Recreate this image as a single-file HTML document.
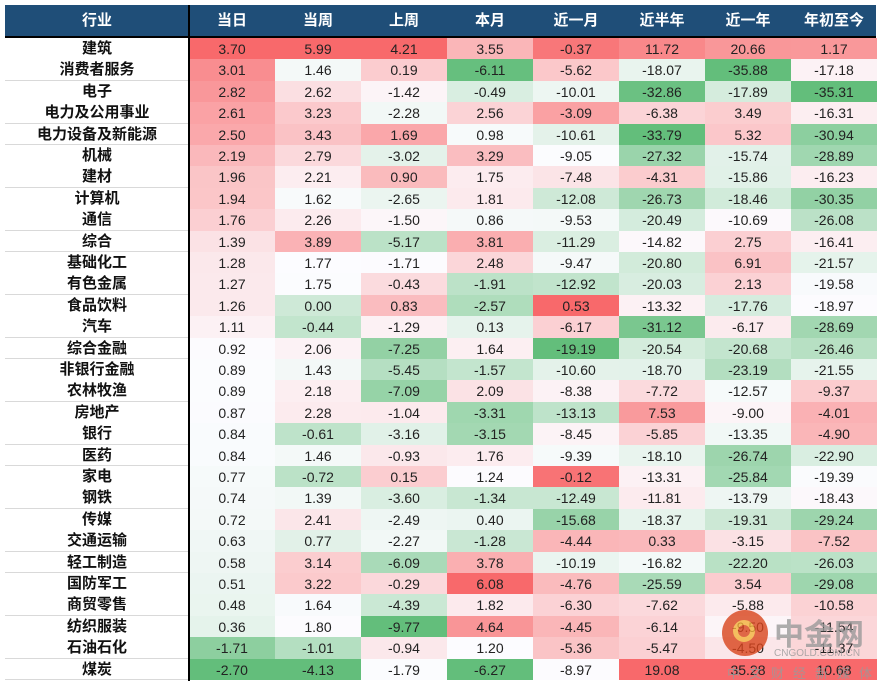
<!DOCTYPE html>
<html><head><meta charset="utf-8">
<style>
body{margin:0;background:#fff;width:881px;height:685px;overflow:hidden;position:relative;font-family:"Liberation Sans","Noto Sans CJK SC",sans-serif;}
#hdr{position:absolute;left:5px;top:5px;width:871px;height:32px;background:#1f4e78;}
.h{position:absolute;top:5px;height:32px;line-height:32px;color:#fff;font-weight:bold;font-size:15px;text-align:center;font-family:"Liberation Sans","Noto Sans CJK SC",sans-serif;}
.c{position:absolute;text-align:center;font-size:14px;color:#222;}
.n{position:absolute;text-align:center;font-size:15px;font-weight:bold;color:#111;background:#fff;border-bottom:1px solid #d9d9d9;box-sizing:border-box;}
</style></head><body>
<div id="hdr"></div>
<div id="tbl"></div>
<div style="position:absolute;left:5px;top:36px;width:871px;height:2px;background:#000;z-index:5"></div>
<div style="position:absolute;left:188px;top:5px;width:2px;height:676px;background:#000;z-index:5"></div>
<div style="position:absolute;left:722px;top:608px;width:160px;height:77px;opacity:0.8;z-index:10">
 <div style="position:absolute;left:0;top:2px;width:46px;height:46px;border-radius:50%;background:#d9441c"></div>
 <div style="position:absolute;left:11px;top:12px;width:22px;height:22px;border-radius:50%;border:5px solid #f3b13a;box-sizing:border-box"></div>
 <div style="position:absolute;left:52px;top:2px;font-size:30px;font-weight:bold;color:#9a9a9a;font-family:'Liberation Sans','Noto Sans CJK SC',sans-serif">中金网</div>
 <div style="position:absolute;left:52px;top:40px;font-size:10px;color:#9a9a9a">CNGOLD.COM.CN</div>
 <div style="position:absolute;left:5px;top:55px;font-size:13px;color:#9a9a9a;letter-spacing:9px;font-family:'Noto Sans CJK SC',sans-serif">中文财经新媒体</div>
</div>
<script>
const headers=["行业","当日","当周","上周","本月","近一月","近半年","近一年","年初至今"];
const industries=["建筑","消费者服务","电子","电力及公用事业","电力设备及新能源","机械","建材","计算机","通信","综合","基础化工","有色金属","食品饮料","汽车","综合金融","非银行金融","农林牧渔","房地产","银行","医药","家电","钢铁","传媒","交通运输","轻工制造","国防军工","商贸零售","纺织服装","石油石化","煤炭"];
const dayV=[3.70,3.01,2.82,2.61,2.50,2.19,1.96,1.94,1.76,1.39,1.28,1.27,1.26,1.11,0.92,0.89,0.89,0.87,0.84,0.84,0.77,0.74,0.72,0.63,0.58,0.51,0.48,0.36,-1.71,-2.70];
const weekV=[5.99,1.46,2.62,3.23,3.43,2.79,2.21,1.62,2.26,3.89,1.77,1.75,0.00,-0.44,2.06,1.43,2.18,2.28,-0.61,1.46,-0.72,1.39,2.41,0.77,3.14,3.22,1.64,1.80,-1.01,-4.13];
const lastWeekV=[4.21,0.19,-1.42,-2.28,1.69,-3.02,0.90,-2.65,-1.50,-5.17,-1.71,-0.43,0.83,-1.29,-7.25,-5.45,-7.09,-1.04,-3.16,-0.93,0.15,-3.60,-2.49,-2.27,-6.09,-0.29,-4.39,-9.77,-0.94,-1.79];
const monthV=[3.55,-6.11,-0.49,2.56,0.98,3.29,1.75,1.81,0.86,3.81,2.48,-1.91,-2.57,0.13,1.64,-1.57,2.09,-3.31,-3.15,1.76,1.24,-1.34,0.40,-1.28,3.78,6.08,1.82,4.64,1.20,-6.27];
const m1V=[-0.37,-5.62,-10.01,-3.09,-10.61,-9.05,-7.48,-12.08,-9.53,-11.29,-9.47,-12.92,0.53,-6.17,-19.19,-10.60,-8.38,-13.13,-8.45,-9.39,-0.12,-12.49,-15.68,-4.44,-10.19,-4.76,-6.30,-4.45,-5.36,-8.97];
const m6V=[11.72,-18.07,-32.86,-6.38,-33.79,-27.32,-4.31,-26.73,-20.49,-14.82,-20.80,-20.03,-13.32,-31.12,-20.54,-18.70,-7.72,7.53,-5.85,-18.10,-13.31,-11.81,-18.37,0.33,-16.82,-25.59,-7.62,-6.14,-5.47,19.08];
const y1V=[20.66,-35.88,-17.89,3.49,5.32,-15.74,-15.86,-18.46,-10.69,2.75,6.91,2.13,-17.76,-6.17,-20.68,-23.19,-12.57,-9.00,-13.35,-26.74,-25.84,-13.79,-19.31,-3.15,-22.20,3.54,-5.88,-9.50,-4.50,35.28];
const ytdV=[1.17,-17.18,-35.31,-16.31,-30.94,-28.89,-16.23,-30.35,-26.08,-16.41,-21.57,-19.58,-18.97,-28.69,-26.46,-21.55,-9.37,-4.01,-4.90,-22.90,-19.39,-18.43,-29.24,-7.52,-26.03,-29.08,-10.58,-11.54,-11.37,10.68];
const cols=[dayV,weekV,lastWeekV,monthV,m1V,m6V,y1V,ytdV];
const colNames=["day","week","last-week","month","1m","6m","1y","ytd"];

const top0=38,rowH=21.4,x0=5,nameW=184,colW=86;
const W=[252,252,255],G=[99,190,123],R=[248,105,107];
function mix(a,b,t){return 'rgb('+a.map((v,i)=>Math.round(v+(b[i]-v)*t)).join(',')+')';}
function colorFor(v,arr){
  const s=[...arr].sort((a,b)=>a-b);const mn=s[0],mx=s[s.length-1];
  const md=(s[14]+s[15])/2;
  if(v>=md)return mix(W,R,mx===md?0:(v-md)/(mx-md));
  return mix(W,G,(md-v)/(md-mn));
}
const body=document.body;
headers.forEach((h,i)=>{
  const d=document.createElement('div');
  d.className='h';
  
  
  d.style.left=(i===0?x0:x0+nameW+(i-1)*colW)+'px';
  d.style.width=(i===0?nameW:colW)+'px';
  d.textContent=h;body.appendChild(d);
});
industries.forEach((name,r)=>{
  const y=top0+r*rowH;
  const n=document.createElement('div');
  n.className='n';
  
  
  n.style.left=x0+'px';n.style.top=y+'px';n.style.width=nameW+'px';
  n.style.height=(rowH+0.5)+'px';n.style.lineHeight=(rowH+1)+'px';
  n.textContent=name;body.appendChild(n);
  cols.forEach((arr,c)=>{
    const d=document.createElement('div');
    d.className='c';
    
    
    d.style.left=(x0+nameW+c*colW)+'px';d.style.top=y+'px';
    d.style.width=colW+'px';d.style.height=(rowH+0.5)+'px';d.style.lineHeight=(rowH+1)+'px';
    d.style.background=colorFor(arr[r],arr);
    d.textContent=arr[r].toFixed(2);
    body.appendChild(d);
  });
});
</script>
</body></html>
